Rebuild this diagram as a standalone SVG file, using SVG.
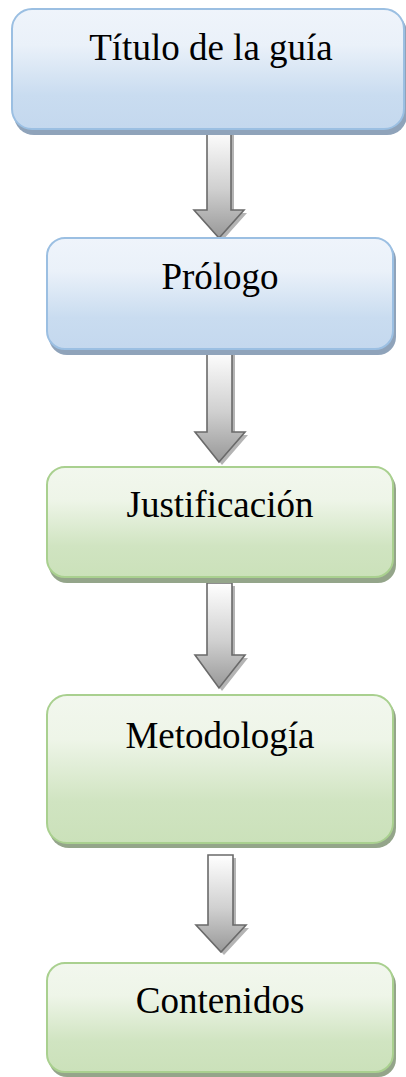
<svg xmlns="http://www.w3.org/2000/svg" width="406" height="1077" viewBox="0 0 406 1077">
<defs>
<linearGradient id="gBlue" x1="0" y1="0" x2="0" y2="1">
<stop offset="0" stop-color="#eff4fb"/>
<stop offset="0.3" stop-color="#eaf1f9"/>
<stop offset="0.72" stop-color="#c9dcf0"/>
<stop offset="1" stop-color="#c4d8ee"/>
</linearGradient>
<linearGradient id="gGreen" x1="0" y1="0" x2="0" y2="1">
<stop offset="0" stop-color="#f2f7ee"/>
<stop offset="0.3" stop-color="#eef5e8"/>
<stop offset="0.72" stop-color="#d0e4c1"/>
<stop offset="1" stop-color="#cbe1ba"/>
</linearGradient>
<linearGradient id="gArrow" x1="0" y1="0" x2="0" y2="1">
<stop offset="0" stop-color="#ffffff"/>
<stop offset="0.55" stop-color="#d0d0d0"/>
<stop offset="1" stop-color="#989898"/>
</linearGradient>
<style>
.blue{fill:url(#gBlue);stroke:#9bbfe2;stroke-width:2}
.green{fill:url(#gGreen);stroke:#a9d08f;stroke-width:2}
.shB{fill:#8fa3ba}
.shG{fill:#94a58a}
.arrow{fill:url(#gArrow);stroke:#6a6a6a;stroke-width:1.6;stroke-linejoin:miter}
.ash{fill:#b4b4b4}
.lbl{font-family:"Liberation Serif","Times New Roman",serif;font-size:37px;fill:#000;text-anchor:middle}
</style>
</defs>
<g id="connectors">
<g id="arrow1">
<polygon class="ash" points="210,132 234,132 234,213 247,213 222,241 197,213 210,213"/>
<polygon class="arrow" points="207,129 231,129 231,210 244,210 219,238 194,210 207,210"/>
</g>
<g id="arrow2">
<polygon class="ash" points="210,353 235,353 235,435 248,435 222,465 198,435 210,435"/>
<polygon class="arrow" points="207,350 232,350 232,432 245,432 219,462 195,432 207,432"/>
</g>
<g id="arrow3">
<polygon class="ash" points="210,586 235,586 235,658 248,658 222,691 198,658 210,658"/>
<polygon class="arrow" points="207,583 232,583 232,655 245,655 219,688 195,655 207,655"/>
</g>
<g id="arrow4">
<polygon class="ash" points="211,858 236,858 236,928 249,928 224,955 199,928 211,928"/>
<polygon class="arrow" points="208,855 233,855 233,925 246,925 221,952 196,925 208,925"/>
</g>
</g>
<g id="node1">
<rect class="shB" x="14" y="13" width="393" height="122" rx="20"/>
<rect class="blue" x="12" y="9" width="392" height="120" rx="20"/>
<text class="lbl" x="211" y="60">Título de la guía</text>
</g>
<g id="node2">
<rect class="shB" x="49" y="242" width="347" height="113" rx="18"/>
<rect class="blue" x="47" y="238" width="346" height="111" rx="18"/>
<text class="lbl" x="220" y="289">Prólogo</text>
</g>
<g id="node3">
<rect class="shG" x="49" y="471" width="347" height="112" rx="18"/>
<rect class="green" x="47" y="467" width="346" height="110" rx="18"/>
<text class="lbl" x="220" y="517">Justificación</text>
</g>
<g id="node4">
<rect class="shG" x="49" y="699" width="347" height="149" rx="20"/>
<rect class="green" x="47" y="695" width="346" height="148" rx="20"/>
<text class="lbl" x="220" y="748">Metodología</text>
</g>
<g id="node5">
<rect class="shG" x="49" y="967" width="347" height="110" rx="18"/>
<rect class="green" x="47" y="963" width="346" height="109" rx="18"/>
<text class="lbl" x="220" y="1013">Contenidos</text>
</g>
</svg>
